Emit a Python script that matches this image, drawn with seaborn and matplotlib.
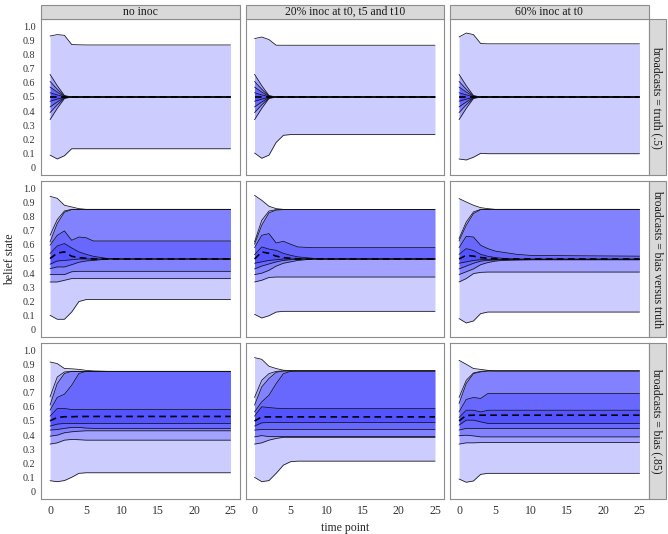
import matplotlib
matplotlib.use("Agg")
import matplotlib.pyplot as plt
import seaborn as sns
from matplotlib.patches import Rectangle

sns.set_style("white")
plt.rcParams['font.family'] = ['Liberation Serif', 'DejaVu Serif']

TIME = [0, 1, 2, 3, 4, 5, 6, 8, 10, 25]

col_titles = ["no inoc", "20% inoc at t0, t5 and t10", "60% inoc at t0"]
row_titles = ["broadcasts = truth (.5)", "broadcasts = bias versus truth", "broadcasts = bias (.85)"]

# each panel: quantile lines q05, q10, q20, q30, q40, q50 (dashed), q60, q70, q80, q90, q95
truth_noinoc = [
    [0.09, 0.063, 0.086, 0.135, 0.135, 0.135, 0.135, 0.135, 0.135, 0.135],
    [0.34, 0.42, 0.49, 0.5, 0.5, 0.5, 0.5, 0.5, 0.5, 0.5],
    [0.39, 0.445, 0.493, 0.5, 0.5, 0.5, 0.5, 0.5, 0.5, 0.5],
    [0.43, 0.465, 0.496, 0.5, 0.5, 0.5, 0.5, 0.5, 0.5, 0.5],
    [0.47, 0.485, 0.498, 0.5, 0.5, 0.5, 0.5, 0.5, 0.5, 0.5],
    [0.5, 0.5, 0.5, 0.5, 0.5, 0.5, 0.5, 0.5, 0.5, 0.5],
    [0.53, 0.515, 0.502, 0.5, 0.5, 0.5, 0.5, 0.5, 0.5, 0.5],
    [0.57, 0.535, 0.504, 0.5, 0.5, 0.5, 0.5, 0.5, 0.5, 0.5],
    [0.61, 0.555, 0.507, 0.5, 0.5, 0.5, 0.5, 0.5, 0.5, 0.5],
    [0.66, 0.58, 0.51, 0.5, 0.5, 0.5, 0.5, 0.5, 0.5, 0.5],
    [0.93, 0.94, 0.935, 0.87, 0.868, 0.867, 0.867, 0.867, 0.867, 0.867],
]
truth_20 = [
    [0.105, 0.068, 0.09, 0.18, 0.23, 0.235, 0.235, 0.235, 0.235, 0.235],
    [0.34, 0.42, 0.49, 0.5, 0.5, 0.5, 0.5, 0.5, 0.5, 0.5],
    [0.39, 0.445, 0.493, 0.5, 0.5, 0.5, 0.5, 0.5, 0.5, 0.5],
    [0.43, 0.465, 0.496, 0.5, 0.5, 0.5, 0.5, 0.5, 0.5, 0.5],
    [0.47, 0.485, 0.498, 0.5, 0.5, 0.5, 0.5, 0.5, 0.5, 0.5],
    [0.5, 0.5, 0.5, 0.5, 0.5, 0.5, 0.5, 0.5, 0.5, 0.5],
    [0.53, 0.515, 0.502, 0.5, 0.5, 0.5, 0.5, 0.5, 0.5, 0.5],
    [0.57, 0.535, 0.504, 0.5, 0.5, 0.5, 0.5, 0.5, 0.5, 0.5],
    [0.61, 0.555, 0.507, 0.5, 0.5, 0.5, 0.5, 0.5, 0.5, 0.5],
    [0.66, 0.58, 0.51, 0.5, 0.5, 0.5, 0.5, 0.5, 0.5, 0.5],
    [0.912, 0.923, 0.905, 0.865, 0.865, 0.865, 0.865, 0.865, 0.865, 0.865],
]
truth_60 = [
    [0.063, 0.056, 0.075, 0.103, 0.1, 0.1, 0.1, 0.1, 0.1, 0.1],
    [0.34, 0.42, 0.49, 0.5, 0.5, 0.5, 0.5, 0.5, 0.5, 0.5],
    [0.39, 0.445, 0.493, 0.5, 0.5, 0.5, 0.5, 0.5, 0.5, 0.5],
    [0.43, 0.465, 0.496, 0.5, 0.5, 0.5, 0.5, 0.5, 0.5, 0.5],
    [0.47, 0.485, 0.498, 0.5, 0.5, 0.5, 0.5, 0.5, 0.5, 0.5],
    [0.5, 0.5, 0.5, 0.5, 0.5, 0.5, 0.5, 0.5, 0.5, 0.5],
    [0.53, 0.515, 0.502, 0.5, 0.5, 0.5, 0.5, 0.5, 0.5, 0.5],
    [0.57, 0.535, 0.504, 0.5, 0.5, 0.5, 0.5, 0.5, 0.5, 0.5],
    [0.61, 0.555, 0.507, 0.5, 0.5, 0.5, 0.5, 0.5, 0.5, 0.5],
    [0.66, 0.58, 0.51, 0.5, 0.5, 0.5, 0.5, 0.5, 0.5, 0.5],
    [0.923, 0.951, 0.94, 0.877, 0.875, 0.875, 0.875, 0.875, 0.875, 0.875],
]
mixed_noinoc = [
    [0.103, 0.075, 0.075, 0.126, 0.2, 0.214, 0.214, 0.214, 0.214, 0.214],
    [0.338, 0.338, 0.35, 0.362, 0.362, 0.362, 0.362, 0.362, 0.362, 0.362],
    [0.39, 0.39, 0.39, 0.41, 0.413, 0.413, 0.413, 0.413, 0.413, 0.413],
    [0.432, 0.444, 0.444, 0.46, 0.477, 0.486, 0.49, 0.5, 0.5, 0.5],
    [0.463, 0.486, 0.49, 0.495, 0.5, 0.5, 0.5, 0.5, 0.5, 0.5],
    [0.503, 0.542, 0.55, 0.519, 0.51, 0.505, 0.5, 0.5, 0.5, 0.5],
    [0.538, 0.592, 0.609, 0.578, 0.55, 0.533, 0.519, 0.503, 0.5, 0.5],
    [0.597, 0.667, 0.698, 0.632, 0.655, 0.65, 0.627, 0.627, 0.627, 0.627],
    [0.62, 0.75, 0.83, 0.848, 0.85, 0.85, 0.85, 0.85, 0.85, 0.85],
    [0.667, 0.778, 0.839, 0.85, 0.85, 0.85, 0.85, 0.85, 0.85, 0.85],
    [0.942, 0.928, 0.879, 0.867, 0.855, 0.85, 0.85, 0.85, 0.85, 0.85],
]
mixed_20 = [
    [0.11, 0.084, 0.1, 0.126, 0.131, 0.131, 0.131, 0.131, 0.131, 0.131],
    [0.338, 0.35, 0.37, 0.373, 0.373, 0.373, 0.373, 0.373, 0.373, 0.373],
    [0.39, 0.40, 0.42, 0.45, 0.47, 0.48, 0.49, 0.5, 0.5, 0.5],
    [0.43, 0.45, 0.465, 0.48, 0.49, 0.495, 0.5, 0.5, 0.5, 0.5],
    [0.47, 0.48, 0.49, 0.495, 0.5, 0.5, 0.5, 0.5, 0.5, 0.5],
    [0.5, 0.55, 0.54, 0.52, 0.51, 0.505, 0.5, 0.5, 0.5, 0.5],
    [0.53, 0.585, 0.57, 0.561, 0.54, 0.526, 0.515, 0.505, 0.5, 0.5],
    [0.58, 0.667, 0.679, 0.613, 0.625, 0.604, 0.585, 0.58, 0.58, 0.58],
    [0.604, 0.738, 0.825, 0.845, 0.848, 0.848, 0.848, 0.848, 0.848, 0.848],
    [0.62, 0.773, 0.838, 0.848, 0.848, 0.848, 0.848, 0.848, 0.848, 0.848],
    [0.949, 0.914, 0.872, 0.855, 0.85, 0.848, 0.848, 0.848, 0.848, 0.848],
]
mixed_60 = [
    [0.08, 0.049, 0.063, 0.115, 0.126, 0.126, 0.126, 0.126, 0.126, 0.126],
    [0.338, 0.362, 0.397, 0.406, 0.408, 0.408, 0.408, 0.408, 0.408, 0.408],
    [0.39, 0.41, 0.43, 0.46, 0.475, 0.485, 0.49, 0.493, 0.495, 0.495],
    [0.43, 0.45, 0.47, 0.485, 0.49, 0.493, 0.495, 0.495, 0.495, 0.495],
    [0.47, 0.48, 0.49, 0.495, 0.497, 0.497, 0.497, 0.497, 0.497, 0.497],
    [0.5, 0.526, 0.52, 0.51, 0.505, 0.502, 0.5, 0.5, 0.5, 0.5],
    [0.533, 0.573, 0.56, 0.533, 0.519, 0.51, 0.505, 0.5, 0.5, 0.5],
    [0.58, 0.66, 0.655, 0.597, 0.573, 0.556, 0.548, 0.533, 0.525, 0.52],
    [0.627, 0.738, 0.82, 0.848, 0.85, 0.85, 0.85, 0.85, 0.85, 0.85],
    [0.644, 0.761, 0.832, 0.85, 0.85, 0.85, 0.85, 0.85, 0.85, 0.85],
    [0.926, 0.902, 0.879, 0.862, 0.855, 0.85, 0.85, 0.85, 0.85, 0.85],
]
bias_noinoc = [
    [0.079, 0.072, 0.08, 0.103, 0.131, 0.135, 0.135, 0.135, 0.135, 0.135],
    [0.337, 0.346, 0.365, 0.37, 0.368, 0.365, 0.365, 0.365, 0.365, 0.365],
    [0.393, 0.4, 0.417, 0.424, 0.428, 0.431, 0.431, 0.431, 0.431, 0.431],
    [0.436, 0.44, 0.448, 0.455, 0.455, 0.45, 0.448, 0.448, 0.448, 0.448],
    [0.464, 0.478, 0.483, 0.483, 0.483, 0.483, 0.483, 0.483, 0.483, 0.483],
    [0.501, 0.525, 0.53, 0.53, 0.532, 0.532, 0.532, 0.532, 0.532, 0.532],
    [0.534, 0.588, 0.588, 0.581, 0.581, 0.581, 0.581, 0.581, 0.581, 0.581],
    [0.576, 0.666, 0.689, 0.752, 0.835, 0.85, 0.85, 0.85, 0.85, 0.85],
    [0.612, 0.764, 0.835, 0.85, 0.85, 0.85, 0.85, 0.85, 0.85, 0.85],
    [0.67, 0.81, 0.846, 0.85, 0.85, 0.85, 0.85, 0.85, 0.85, 0.85],
    [0.916, 0.905, 0.87, 0.868, 0.864, 0.857, 0.853, 0.85, 0.85, 0.85],
]
bias_20 = [
    [0.103, 0.072, 0.08, 0.131, 0.189, 0.213, 0.217, 0.217, 0.217, 0.217],
    [0.337, 0.346, 0.365, 0.377, 0.385, 0.385, 0.385, 0.385, 0.385, 0.385],
    [0.388, 0.397, 0.39, 0.39, 0.39, 0.39, 0.39, 0.39, 0.39, 0.39],
    [0.436, 0.44, 0.44, 0.44, 0.44, 0.44, 0.44, 0.44, 0.44, 0.44],
    [0.464, 0.487, 0.49, 0.49, 0.49, 0.49, 0.49, 0.49, 0.49, 0.49],
    [0.5, 0.529, 0.529, 0.529, 0.529, 0.529, 0.529, 0.529, 0.529, 0.529],
    [0.534, 0.6, 0.595, 0.59, 0.588, 0.588, 0.588, 0.588, 0.588, 0.588],
    [0.564, 0.635, 0.682, 0.764, 0.834, 0.85, 0.853, 0.853, 0.853, 0.853],
    [0.612, 0.74, 0.8, 0.843, 0.853, 0.853, 0.853, 0.853, 0.853, 0.853],
    [0.666, 0.787, 0.834, 0.85, 0.853, 0.853, 0.853, 0.853, 0.853, 0.853],
    [0.947, 0.935, 0.886, 0.87, 0.858, 0.855, 0.853, 0.853, 0.853, 0.853],
]
bias_60 = [
    [0.091, 0.068, 0.077, 0.124, 0.131, 0.131, 0.131, 0.131, 0.131, 0.131],
    [0.337, 0.346, 0.346, 0.348, 0.349, 0.349, 0.349, 0.349, 0.349, 0.349],
    [0.396, 0.4, 0.395, 0.388, 0.388, 0.388, 0.388, 0.388, 0.388, 0.388],
    [0.436, 0.448, 0.448, 0.448, 0.448, 0.448, 0.448, 0.448, 0.448, 0.448],
    [0.471, 0.506, 0.506, 0.494, 0.483, 0.483, 0.483, 0.483, 0.483, 0.483],
    [0.501, 0.539, 0.541, 0.541, 0.541, 0.541, 0.541, 0.541, 0.541, 0.541],
    [0.525, 0.576, 0.576, 0.564, 0.576, 0.576, 0.576, 0.576, 0.576, 0.576],
    [0.564, 0.652, 0.666, 0.659, 0.694, 0.694, 0.694, 0.694, 0.694, 0.694],
    [0.623, 0.764, 0.834, 0.846, 0.853, 0.853, 0.853, 0.853, 0.853, 0.853],
    [0.666, 0.787, 0.839, 0.85, 0.853, 0.853, 0.853, 0.853, 0.853, 0.853],
    [0.928, 0.9, 0.87, 0.864, 0.857, 0.853, 0.853, 0.853, 0.853, 0.853],
]

panels = [
    [truth_noinoc, truth_20, truth_60],
    [mixed_noinoc, mixed_20, mixed_60],
    [bias_noinoc, bias_20, bias_60],
]

W, H = 668, 534
fig = plt.figure(figsize=(W / 100, H / 100), dpi=100)

lefts = [41, 245.5, 450]
tops = [19, 181, 343]
pw, ph = 198.5, 156
border = "#8c8c8c"

def fx(px):
    return px / W

def fy(py):
    return 1 - py / H

for r in range(3):
    for c in range(3):
        ax = fig.add_axes([fx(lefts[c]), fy(tops[r] + ph), pw / W, ph / H])
        q = panels[r][c]
        # nested quantile bands, each drawn with the same translucent blue
        for lo, hi in [(0, 10), (1, 9), (2, 8), (3, 7), (4, 6)]:
            ax.fill_between(TIME, q[lo], q[hi], color="#0000ff", alpha=0.2, lw=0)
        for i, line in enumerate(q):
            if i == 5:
                continue
            sns.lineplot(x=TIME, y=line, ax=ax, color="#111111", lw=0.55)
        sns.lineplot(x=TIME, y=q[5], ax=ax, color="black", lw=1.2, linestyle=(0, (4, 2.6)))

        ax.set_xlim(-1.25, 26.25)
        ax.set_ylim(-0.05, 1.05)
        ax.set_xticks([0, 5, 10, 15, 20, 25])
        ax.set_yticks([i / 10 for i in range(11)])
        ax.set_yticklabels(["0"] + [f"{i / 10:.1f}" for i in range(1, 11)])
        ax.tick_params(axis="both", length=2.5, width=0.6, color="#333333",
                       labelcolor="#333333")
        ax.tick_params(axis="y", labelsize=7.3, pad=1.5)
        ax.tick_params(axis="x", labelsize=8.5, pad=2)
        if c != 0:
            ax.set_yticklabels([])
            ax.tick_params(axis="y", length=0)
        if r != 2:
            ax.set_xticklabels([])
            ax.tick_params(axis="x", length=0)
        ax.set_xlabel("")
        ax.set_ylabel("")
        for s in ax.spines.values():
            s.set_color(border)
            s.set_linewidth(0.8)

        if r == 0:
            fig.patches.append(Rectangle((fx(lefts[c]), fy(19)), pw / W, 14 / H,
                                         transform=fig.transFigure, facecolor="#d9d9d9",
                                         edgecolor=border, lw=0.8))
            fig.text(fx(lefts[c] + pw / 2), fy(12), col_titles[c], ha="center", va="center",
                     fontsize=8.4, color="#1a1a1a")
        if c == 2:
            fig.patches.append(Rectangle((fx(lefts[c] + pw), fy(tops[r] + ph)), 17 / W, ph / H,
                                         transform=fig.transFigure, facecolor="#d9d9d9",
                                         edgecolor=border, lw=0.8))
            fig.text(fx(lefts[c] + pw + 8.5), fy(tops[r] + ph / 2), row_titles[r],
                     ha="center", va="center", rotation=-90, fontsize=8.4, color="#1a1a1a")

fig.text(fx(345), fy(528), "time point", ha="center", va="center", fontsize=8.5)
fig.text(fx(10), fy(259), "belief state", ha="center", va="center", rotation=90, fontsize=8.5)

fig.savefig("out.png", dpi=100)
